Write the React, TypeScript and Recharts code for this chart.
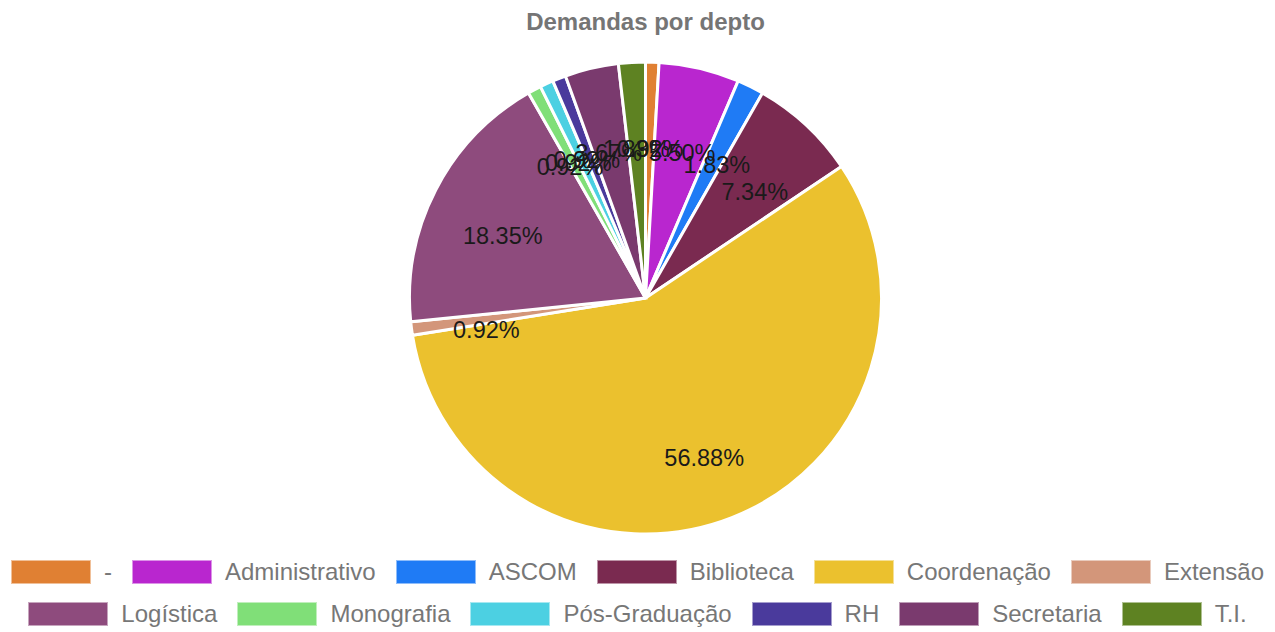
import { PieChart, Pie, Cell, Legend } from 'recharts';

const departments = ['-', 'Administrativo', 'ASCOM', 'Biblioteca', 'Coordenação', 'Extensão', 'Logística', 'Monografia', 'Pós-Graduação', 'RH', 'Secretaria', 'T.I.'];
const demandCounts = [1, 6, 2, 8, 62, 1, 20, 1, 1, 1, 4, 2];
const COLORS = ['#e08033', '#b926cf', '#1f7bf5', '#7a2a50', '#ebc12e', '#d3967a', '#8e4b7d', '#80df78', '#4cd0e2', '#4a3a9c', '#7a3a6e', '#5e8222'];

const data = departments.map((name, i) => ({ name, value: demandCounts[i] }));

const RAD = Math.PI / 180;
const FONT = '"Liberation Sans", Arial, sans-serif';

function SliceLabel(props: any) {
  const { cx, cy, midAngle, outerRadius, percent } = props;
  const r = outerRadius * 0.68;
  const x = cx + r * Math.cos(-midAngle * RAD);
  const y = cy + r * Math.sin(-midAngle * RAD) + 11;
  return (
    <text x={x} y={y} fill="#1a1a1a" fontSize={23.5} fontFamily={FONT} textAnchor="middle" dominantBaseline="central">
      {(percent * 100).toFixed(2)}%
    </text>
  );
}

function LegendRows() {
  const rows = [data.slice(0, 6), data.slice(6)];
  return (
    <div style={{ fontFamily: FONT, fontSize: 24, color: '#777' }}>
      {rows.map((row, ri) => (
        <div key={ri} style={{ display: 'flex', justifyContent: 'center', alignItems: 'center', height: 42 }}>
          {row.map((item) => {
            const i = departments.indexOf(item.name);
            return (
              <div key={item.name} style={{ display: 'flex', alignItems: 'center', margin: '0 10px' }}>
                <div style={{ width: 78, height: 22, background: COLORS[i], border: '1px solid rgba(255,255,255,0.5)', marginRight: 13 }} />
                <span style={{ whiteSpace: 'nowrap' }}>{item.name}</span>
              </div>
            );
          })}
        </div>
      ))}
    </div>
  );
}

export default function App() {
  return (
    <div style={{ position: 'absolute', left: 0, top: 0, width: 1275, height: 632, background: '#fff' }}>
      <div style={{ position: 'absolute', top: 8, width: 1275, left: 8, textAlign: 'center', fontFamily: FONT, fontWeight: 'bold', fontSize: 24, color: '#757575' }}>
        Demandas por depto
      </div>
      <PieChart width={1275} height={632} margin={{ top: 0, right: 0, bottom: 0, left: 0 }}>
        <Pie
          data={data}
          dataKey="value"
          nameKey="name"
          cx={645.5}
          cy={298}
          outerRadius={236}
          startAngle={90}
          endAngle={-270}
          stroke="#fff"
          strokeWidth={3}
          label={SliceLabel}
          labelLine={false}
          isAnimationActive={false}
        >
          {data.map((_, i) => (
            <Cell key={i} fill={COLORS[i % COLORS.length]} />
          ))}
        </Pie>
        <Legend content={<LegendRows />} wrapperStyle={{ position: 'absolute', left: 0, top: 551, width: 1275 }} />
      </PieChart>
    </div>
  );
}
